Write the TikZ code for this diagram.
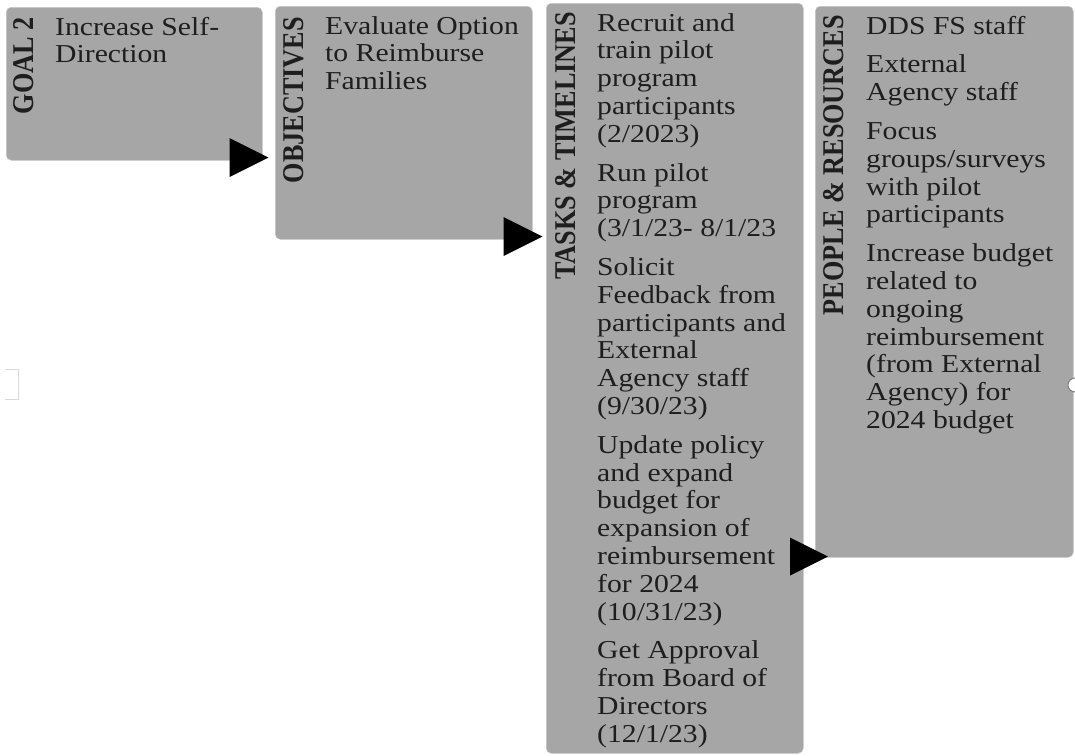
\documentclass[tikz,border=0pt]{standalone}
\usepackage{fontspec}
\setmainfont{Liberation Serif}

\definecolor{boxgray}{RGB}{166,166,166}
\definecolor{inkgray}{RGB}{30,30,30}
\tikzstyle{box}=[rectangle,rounded corners=5pt,fill=boxgray,draw=black!22,line width=0.5pt,anchor=north west,inner sep=0pt]
\tikzstyle{heading}=[anchor=base east,inner sep=0pt,xscale=1.15,rotate=90,text=inkgray,font=\fontsize{26.2}{27.8}\selectfont\bfseries]
\tikzstyle{body}=[anchor=north west,inner sep=0pt,xscale=1.15,align=left,text=inkgray,font=\fontsize{25.8}{27.8}\selectfont]
\tikzstyle{tip}=[fill=black]

\begin{document}
\begin{tikzpicture}[x=1pt,y=-1pt]
	\useasboundingbox (0,0) rectangle (1075,755);
	
	\node[box,minimum width=256pt,minimum height=153pt] (goal) at (6,7) {};
	\node[box,minimum width=257pt,minimum height=233pt] (objectives) at (275,6) {};
	\node[box,minimum width=257pt,minimum height=750pt] (tasks) at (546,3) {};
	\node[box,minimum width=258pt,minimum height=551pt] (people) at (815,6) {};
	
	\node[heading] (goalhead) at ([shift={(27,10)}]goal.north west) {GOAL 2};
	\node[heading] (objhead) at ([shift={(28,11)}]objectives.north west) {OBJECTIVES};
	\node[heading] (taskhead) at ([shift={(29,9)}]tasks.north west) {TASKS \& TIMELINES};
	\node[heading] (peoplehead) at ([shift={(28,9)}]people.north west) {PEOPLE \& RESOURCES};
	
	\node[body] (goaltext) at ([shift={(49,8.5)}]goal.north west) {\strut Increase Self-\\Direction};
	\node[body] (objtext) at ([shift={(50,8.5)}]objectives.north west) {\strut Evaluate Option\\to Reimburse\\Families};
	\node[body] (tasktext) at ([shift={(51,8.5)}]tasks.north west) {\strut Recruit and\\train pilot\\program\\participants\\(2/2023)\\[11pt]Run pilot\\program\\(3/1/23- 8/1/23\\[11pt]Solicit\\Feedback from\\participants and\\External\\Agency staff\\(9/30/23)\\[11pt]Update policy\\and expand\\budget for\\expansion of\\reimbursement\\for 2024\\(10/31/23)\\[11pt]Get Approval\\from Board of\\Directors\\(12/1/23)};
	\node[body] (peopletext) at ([shift={(51,8.5)}]people.north west) {\strut DDS FS staff\\[11pt]External\\Agency staff\\[11pt]Focus\\groups/surveys\\with pilot\\participants\\[11pt]Increase budget\\related to\\ongoing\\reimbursement\\(from External\\Agency) for\\2024 budget};
	
	% arrow heads between the boxes
	\fill[tip] ([shift={(6,-3)}]goal.south east) -- ++(-39,-19.5) -- ++(0,39) -- cycle;
	\fill[tip] ([shift={(10,-3)}]objectives.south east) -- ++(-39,-19.5) -- ++(0,39) -- cycle;
	\fill[tip] ([shift={(13,-1)}]people.south west) -- ++(-38,-19) -- ++(0,38) -- cycle;
	
	\draw[black!15,line width=1pt] (5,369) -- (18,369) -- (18,399) -- (5,399);
	\draw[gray,fill=white,line width=1pt] (1075,385) circle (7pt);
\end{tikzpicture}
\end{document}
